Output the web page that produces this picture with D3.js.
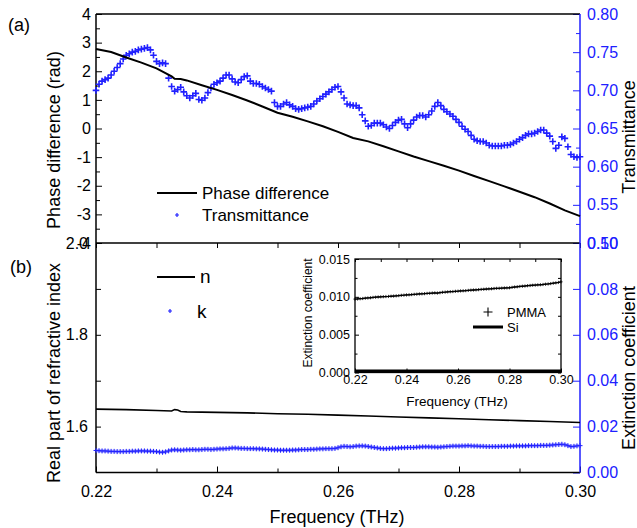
<!DOCTYPE html>
<html><head><meta charset="utf-8">
<script src="https://cdn.jsdelivr.net/npm/d3@7"></script>
<style>body{margin:0;background:#fff} svg{display:block;font-family:"Liberation Sans",Arial,sans-serif}</style>
</head><body><svg id="c" width="637" height="528"></svg>
<script>
// ---------------- DATA ----------------
const fStart = 0.22, fStep = 0.0005;
const transmittance = [
0.700,0.708,0.712,0.714,0.716,0.720,0.725,0.730,0.735,0.741,
0.746,0.748,0.750,0.751,0.753,0.754,0.755,0.756,0.753,0.746,
0.738,0.735,0.736,0.735,0.716,0.705,0.699,0.701,0.704,0.698,
0.693,0.690,0.693,0.696,0.688,0.687,0.690,0.697,0.703,0.708,
0.710,0.712,0.716,0.720,0.720,0.715,0.711,0.710,0.714,0.718,
0.719,0.712,0.709,0.709,0.708,0.705,0.703,0.701,0.699,0.684,
0.679,0.679,0.682,0.684,0.681,0.679,0.676,0.675,0.676,0.677,
0.678,0.679,0.682,0.686,0.689,0.692,0.695,0.698,0.701,0.704,
0.705,0.698,0.690,0.682,0.681,0.680,0.680,0.677,0.668,0.660,
0.653,0.654,0.657,0.657,0.657,0.655,0.652,0.650,0.654,0.658,
0.661,0.662,0.656,0.651,0.656,0.661,0.665,0.667,0.667,0.665,
0.668,0.673,0.679,0.684,0.680,0.675,0.672,0.669,0.666,0.662,
0.658,0.653,0.649,0.646,0.641,0.636,0.634,0.633,0.633,0.631,
0.628,0.627,0.627,0.627,0.627,0.628,0.628,0.629,0.631,0.633,
0.636,0.638,0.641,0.643,0.643,0.644,0.646,0.648,0.648,0.644,
0.640,0.633,0.624,0.628,0.639,0.637,0.626,0.616,0.613,0.612,
0.613];
const kValues = [
0.0096,0.0095,0.0094,0.0094,0.0093,0.0092,0.0092,0.0091,0.0091,0.0091,
0.0092,0.0092,0.0093,0.0093,0.0094,0.0094,0.0094,0.0093,0.0093,0.0092,
0.0091,0.0089,0.0088,0.0090,0.0094,0.0098,0.0099,0.0098,0.0097,0.0098,
0.0099,0.0099,0.0100,0.0099,0.0099,0.0100,0.0101,0.0101,0.0100,0.0101,
0.0102,0.0103,0.0103,0.0104,0.0105,0.0107,0.0107,0.0106,0.0105,0.0105,
0.0104,0.0104,0.0104,0.0103,0.0103,0.0102,0.0101,0.0100,0.0099,0.0098,
0.0098,0.0097,0.0097,0.0097,0.0097,0.0098,0.0098,0.0099,0.0100,0.0100,
0.0100,0.0101,0.0101,0.0102,0.0103,0.0103,0.0104,0.0104,0.0104,0.0105,
0.0108,0.0112,0.0114,0.0113,0.0112,0.0113,0.0115,0.0116,0.0116,0.0115,
0.0113,0.0111,0.0109,0.0107,0.0105,0.0104,0.0104,0.0105,0.0106,0.0106,
0.0107,0.0108,0.0108,0.0109,0.0109,0.0109,0.0110,0.0111,0.0112,0.0112,
0.0112,0.0111,0.0111,0.0110,0.0111,0.0112,0.0113,0.0114,0.0115,0.0115,
0.0115,0.0116,0.0116,0.0117,0.0116,0.0115,0.0115,0.0114,0.0114,0.0113,
0.0113,0.0113,0.0113,0.0113,0.0114,0.0114,0.0114,0.0115,0.0115,0.0116,
0.0116,0.0116,0.0116,0.0117,0.0117,0.0117,0.0117,0.0118,0.0118,0.0118,
0.0119,0.0120,0.0121,0.0122,0.0123,0.0121,0.0117,0.0113,0.0114,0.0116,
0.0117];
const phaseFreq = [0.2200,0.2225,0.2250,0.2275,0.2300,0.2325,0.2330,0.2340,0.2350,0.2375,0.2400,0.2425,0.2450,0.2475,0.2500,0.2525,0.2550,0.2575,0.2600,0.2625,0.2650,0.2675,0.2700,0.2725,0.2750,0.2775,0.2800,0.2825,0.2850,0.2875,0.2900,0.2925,0.2950,0.2975,0.3000];
const phaseValues = [2.78,2.67,2.48,2.30,2.10,1.82,1.74,1.73,1.68,1.51,1.35,1.17,0.98,0.77,0.55,0.41,0.25,0.08,-0.12,-0.33,-0.45,-0.62,-0.80,-0.98,-1.14,-1.30,-1.47,-1.66,-1.84,-2.02,-2.21,-2.40,-2.62,-2.86,-3.06];
const nFreq = [0.220,0.225,0.230,0.2325,0.2330,0.2335,0.2340,0.235,0.240,0.245,0.250,0.255,0.260,0.265,0.270,0.275,0.280,0.285,0.290,0.295,0.300];
const nValues = [1.638,1.637,1.635,1.634,1.637,1.636,1.633,1.632,1.631,1.630,1.628,1.627,1.625,1.623,1.621,1.619,1.617,1.615,1.613,1.611,1.609];
const pmmaStart = 0.22, pmmaStep = 0.001;
const pmmaValues = [
0.00970,0.00972,0.00975,0.00978,0.00982,0.00985,0.00988,0.00992,0.00995,0.00998,
0.01000,0.01002,0.01004,0.01005,0.01008,0.01010,0.01013,0.01016,0.01020,0.01022,
0.01025,0.01027,0.01030,0.01033,0.01035,0.01038,0.01040,0.01042,0.01045,0.01047,
0.01050,0.01052,0.01050,0.01055,0.01060,0.01062,0.01065,0.01068,0.01070,0.01073,
0.01075,0.01078,0.01080,0.01082,0.01085,0.01088,0.01090,0.01092,0.01095,0.01098,
0.01100,0.01103,0.01105,0.01107,0.01110,0.01112,0.01113,0.01115,0.01117,0.01118,
0.01120,0.01125,0.01130,0.01133,0.01137,0.01140,0.01143,0.01147,0.01150,0.01153,
0.01155,0.01158,0.01160,0.01163,0.01167,0.01170,0.01175,0.01180,0.01185,0.01190,
0.01198];
const siFreq = [0.22,0.26,0.30];
const siValues = [0.0002,0.0002,0.0002];
const xTicks = [0.22,0.24,0.26,0.28,0.30];
const xMinorTicks = [0.23,0.25,0.27,0.29];
const phaseTicks = [-4,-3,-2,-1,0,1,2,3,4];
const transTicks = [0.50,0.55,0.60,0.65,0.70,0.75,0.80];
const nTicks = [1.6,1.8,2.0];
const kTicks = [0,0.02,0.04,0.06,0.08,0.10];
const insetYTicks = [0,0.005,0.010,0.015];

// ---------------- DRAW ----------------
const BLUE = "#2020ff";
const svg = d3.select("#c");
const X0 = 96, X1 = 580, YT = 14, YM = 243, YB = 472.5;
const x = d3.scaleLinear([0.22,0.30],[X0,X1]);
const yPhase = d3.scaleLinear([-4,4],[YM,YT]);
const yTrans = d3.scaleLinear([0.5,0.8],[YM,YT]);
const yN = d3.scaleLinear([1.5,2.0],[YB,YM]);
const yK = d3.scaleLinear([0,0.1],[YB,YM]);

const transPts = transmittance.map((v,i)=>({f:fStart+i*fStep, v}));
const kPts = kValues.map((v,i)=>({f:fStart+i*fStep, v}));
const pmmaPts = pmmaValues.map((v,i)=>({f:pmmaStart+i*pmmaStep, v}));

function clean(g){ g.select(".domain").remove(); g.selectAll("text").attr("font-family",'"Liberation Sans",Arial,sans-serif'); }

// Top panel axes
let g = svg.append("g").attr("transform",`translate(${X0},0)`)
  .call(d3.axisLeft(yPhase).tickValues(phaseTicks).tickSizeInner(-6).tickSizeOuter(0).tickPadding(5).tickFormat(d=>String(d)));
clean(g); g.selectAll("text").attr("font-size",16).attr("fill","#000");
g = svg.append("g").attr("transform",`translate(${X0},0)`)
  .call(d3.axisLeft(yPhase).tickValues(d3.range(-3.5,4,1)).tickSizeInner(-4).tickSizeOuter(0).tickFormat(""));
clean(g);
g = svg.append("g").attr("transform",`translate(${X1},0)`)
  .call(d3.axisRight(yTrans).tickValues(transTicks).tickSizeInner(-7).tickSizeOuter(0).tickPadding(7).tickFormat(d3.format(".2f")));
clean(g); g.selectAll("line").attr("stroke",BLUE); g.selectAll("text").attr("font-size",16).attr("fill",BLUE);
g = svg.append("g").attr("transform",`translate(${X1},0)`)
  .call(d3.axisRight(yTrans).tickValues([0.525,0.575,0.625,0.675,0.725,0.775]).tickSizeInner(-4).tickSizeOuter(0).tickFormat(""));
clean(g); g.selectAll("line").attr("stroke",BLUE);

// Bottom panel axes
g = svg.append("g").attr("transform",`translate(${X0},0)`)
  .call(d3.axisLeft(yN).tickValues(nTicks).tickSizeInner(-5).tickSizeOuter(0).tickPadding(8).tickFormat(d3.format(".1f")));
clean(g); g.selectAll("text").attr("font-size",16).attr("fill","#000");
g = svg.append("g").attr("transform",`translate(${X0},0)`)
  .call(d3.axisLeft(yN).tickValues([1.7,1.9]).tickSizeInner(-5).tickSizeOuter(0).tickFormat(""));
clean(g);
g = svg.append("g").attr("transform",`translate(${X1},0)`)
  .call(d3.axisRight(yK).tickValues(kTicks).tickSizeInner(-7).tickSizeOuter(0).tickPadding(7).tickFormat(d3.format(".2f")));
clean(g); g.selectAll("line").attr("stroke",BLUE); g.selectAll("text").attr("font-size",16).attr("fill",BLUE);
g = svg.append("g").attr("transform",`translate(0,${YB})`)
  .call(d3.axisBottom(x).tickValues(xTicks).tickSizeInner(-6).tickSizeOuter(0).tickPadding(13).tickFormat(d3.format(".2f")));
clean(g); g.selectAll("text").attr("font-size",16).attr("fill","#000");
g = svg.append("g").attr("transform",`translate(0,${YB})`)
  .call(d3.axisBottom(x).tickValues(xMinorTicks).tickSizeInner(-4).tickSizeOuter(0).tickFormat(""));
clean(g);
g = svg.append("g").attr("transform",`translate(0,${YM})`)
  .call(d3.axisTop(x).tickValues(xTicks.concat(xMinorTicks)).tickSizeInner(-5).tickSizeOuter(0).tickFormat(""));
clean(g);

// frame lines
svg.append("line").attr("x1",X0).attr("x2",X1).attr("y1",YT).attr("y2",YT).attr("stroke","#000").attr("stroke-width",1.5);
svg.append("line").attr("x1",X0).attr("x2",X1).attr("y1",YM).attr("y2",YM).attr("stroke","#000").attr("stroke-width",1.5);
svg.append("line").attr("x1",X0).attr("x2",X1).attr("y1",YB).attr("y2",YB).attr("stroke","#000").attr("stroke-width",1.5);
svg.append("line").attr("x1",X0).attr("x2",X0).attr("y1",YT).attr("y2",YB).attr("stroke","#000").attr("stroke-width",1.5);
svg.append("line").attr("x1",X1).attr("x2",X1).attr("y1",YT).attr("y2",YB).attr("stroke",BLUE).attr("stroke-width",1.5);

// Top panel data
const plus = s => `M${-s},0H${s}M0,${-s}V${s}`;
svg.append("g").selectAll("path").data(transPts).join("path")
  .attr("d",plus(3.3)).attr("transform",d=>`translate(${x(d.f)},${yTrans(d.v)})`)
  .attr("stroke",BLUE).attr("stroke-width",1.6).attr("fill","none");
svg.append("path").datum(phaseFreq.map((f,i)=>[f,phaseValues[i]]))
  .attr("d",d3.line().x(d=>x(d[0])).y(d=>yPhase(d[1])))
  .attr("fill","none").attr("stroke","#000").attr("stroke-width",2);

// Bottom panel data
svg.append("path").datum(nFreq.map((f,i)=>[f,nValues[i]]))
  .attr("d",d3.line().x(d=>x(d[0])).y(d=>yN(d[1])))
  .attr("fill","none").attr("stroke","#000").attr("stroke-width",1.6);
svg.append("path").datum(kPts)
  .attr("d",d3.line().x(d=>x(d.f)).y(d=>yK(d.v)))
  .attr("fill","none").attr("stroke","#8c8cff").attr("stroke-width",3.5).attr("opacity",0.7);
svg.append("g").selectAll("path").data(kPts).join("path")
  .attr("d",plus(2.5)).attr("transform",d=>`translate(${x(d.f)},${yK(d.v)})`)
  .attr("stroke",BLUE).attr("stroke-width",1).attr("fill","none");

// Legends
svg.append("line").attr("x1",157).attr("x2",197).attr("y1",193).attr("y2",193).attr("stroke","#000").attr("stroke-width",2);
svg.append("text").attr("x",202).attr("y",199).attr("font-size",17).text("Phase difference");
svg.append("path").attr("d",plus(2)).attr("transform","translate(177,215)").attr("stroke",BLUE).attr("stroke-width",1.2);
svg.append("text").attr("x",202).attr("y",221).attr("font-size",17).text("Transmittance");

svg.append("line").attr("x1",157).attr("x2",195).attr("y1",277).attr("y2",277).attr("stroke","#000").attr("stroke-width",2);
svg.append("text").attr("x",200).attr("y",283).attr("font-size",19).text("n");
svg.append("path").attr("d",plus(2)).attr("transform","translate(170,311)").attr("stroke",BLUE).attr("stroke-width",1.2);
svg.append("text").attr("x",197).attr("y",318).attr("font-size",19).text("k");

// Axis titles
svg.append("text").attr("transform","translate(60,140) rotate(-90)").attr("text-anchor","middle").attr("font-size",18).text("Phase difference (rad)");
svg.append("text").attr("transform","translate(60,373) rotate(-90)").attr("text-anchor","middle").attr("font-size",18).text("Real part of refractive index");
svg.append("text").attr("transform","translate(635,137) rotate(-90)").attr("text-anchor","middle").attr("font-size",18).text("Transmittance");
svg.append("text").attr("transform","translate(635,368) rotate(-90)").attr("text-anchor","middle").attr("font-size",18).text("Extinction coefficient");
svg.append("text").attr("x",337).attr("y",523).attr("text-anchor","middle").attr("font-size",18).text("Frequency (THz)");
svg.append("text").attr("x",8).attr("y",31).attr("font-size",18).text("(a)");
svg.append("text").attr("x",10).attr("y",273).attr("font-size",18).text("(b)");

// ---------------- INSET ----------------
const IX0 = 355, IX1 = 561, IY0 = 259, IY1 = 372.5;
const xi = d3.scaleLinear([0.22,0.30],[IX0,IX1]);
const yi = d3.scaleLinear([0,0.015],[IY1,IY0]);
svg.append("rect").attr("x",IX0).attr("y",IY0).attr("width",IX1-IX0).attr("height",IY1-IY0).attr("fill","#fff").attr("stroke","#000").attr("stroke-width",1.3);
g = svg.append("g").attr("transform",`translate(${IX0},0)`)
  .call(d3.axisLeft(yi).tickValues(insetYTicks).tickSizeInner(-4).tickSizeOuter(0).tickPadding(5).tickFormat(d3.format(".3f")));
clean(g); g.selectAll("text").attr("font-size",12.5).attr("fill","#000");
g = svg.append("g").attr("transform",`translate(${IX0},0)`)
  .call(d3.axisLeft(yi).tickValues([0.0025,0.0075,0.0125]).tickSizeInner(-2.5).tickSizeOuter(0).tickFormat(""));
clean(g);
g = svg.append("g").attr("transform",`translate(${IX1},0)`)
  .call(d3.axisRight(yi).tickValues(insetYTicks.concat([0.0025,0.0075,0.0125])).tickSizeInner(-3).tickSizeOuter(0).tickFormat(""));
clean(g);
g = svg.append("g").attr("transform",`translate(0,${IY1})`)
  .call(d3.axisBottom(xi).tickValues(xTicks).tickSizeInner(-4).tickSizeOuter(0).tickPadding(2.5).tickFormat(d3.format(".2f")));
clean(g); g.selectAll("text").attr("font-size",12.5).attr("fill","#000");
g = svg.append("g").attr("transform",`translate(0,${IY1})`)
  .call(d3.axisBottom(xi).tickValues(xMinorTicks).tickSizeInner(-2.5).tickSizeOuter(0).tickFormat(""));
clean(g);
g = svg.append("g").attr("transform",`translate(0,${IY0})`)
  .call(d3.axisTop(xi).tickValues(xTicks.concat(xMinorTicks)).tickSizeInner(-3).tickSizeOuter(0).tickFormat(""));
clean(g);

svg.append("path").datum(pmmaPts)
  .attr("d",d3.line().x(d=>xi(d.f)).y(d=>yi(d.v)))
  .attr("fill","none").attr("stroke","#000").attr("stroke-width",1.3);
svg.append("g").selectAll("path").data(pmmaPts).join("path")
  .attr("d",plus(1.6)).attr("transform",d=>`translate(${xi(d.f)},${yi(d.v)})`)
  .attr("stroke","#000").attr("stroke-width",0.8).attr("fill","none");
svg.append("path").datum(siFreq.map((f,i)=>[f,siValues[i]]))
  .attr("d",d3.line().x(d=>xi(d[0])).y(d=>yi(d[1])))
  .attr("fill","none").attr("stroke","#000").attr("stroke-width",3);

svg.append("path").attr("d",plus(4.5)).attr("transform","translate(488,312)").attr("stroke","#000").attr("stroke-width",1.1);
svg.append("text").attr("x",507).attr("y",317).attr("font-size",13).text("PMMA");
svg.append("line").attr("x1",473).attr("x2",503).attr("y1",327).attr("y2",327).attr("stroke","#000").attr("stroke-width",3);
svg.append("text").attr("x",507).attr("y",332).attr("font-size",13).text("Si");
svg.append("text").attr("transform","translate(312,313) rotate(-90)").attr("text-anchor","middle").attr("font-size",12).text("Extinction coefficient");
svg.append("text").attr("x",457).attr("y",406).attr("text-anchor","middle").attr("font-size",13.5).text("Frequency (THz)");
</script></body></html>
